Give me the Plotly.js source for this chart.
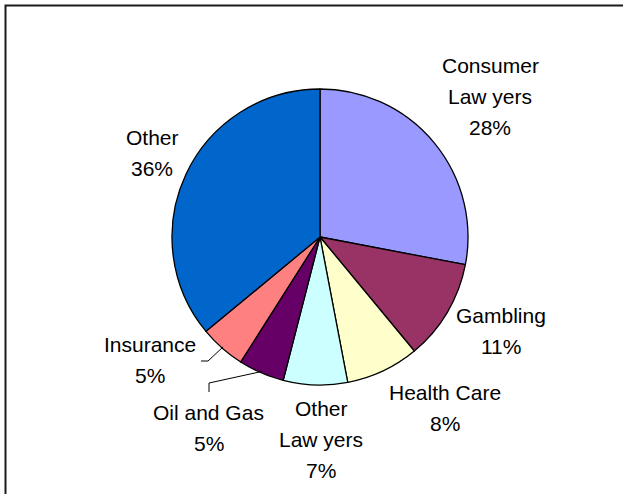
<!DOCTYPE html>
<html>
<head>
<meta charset="utf-8">
<script src="https://cdn.plot.ly/plotly-3.0.1.min.js"></script>
<style>html,body{margin:0;padding:0;background:#fff;}#chart{width:623px;height:494px;}</style>
</head>
<body>
<div id="chart"></div>
<script>
// ---- data ----
const categories = ["Consumer Lawyers", "Gambling", "Health Care", "Other Lawyers", "Oil and Gas", "Insurance", "Other"];
const shares = [28, 11, 8, 7, 5, 5, 36];
const labelLines = [["Consumer", "Law yers"], ["Gambling"], ["Health Care"], ["Other", "Law yers"], ["Oil and Gas"], ["Insurance"], ["Other"]];
const colors = ["#9999FF", "#993366", "#FFFFCC", "#CCFFFF", "#660066", "#FF8080", "#0066CC"];

// ---- layout settings (pixels) ----
const W = 623, H = 494;
const cx = 320, cy = 237, R = 148;
const lineGap = 31;
const labelPos = [[490, 65.5], [501, 315], [445, 392], [321, 408], [208.5, 412], [150, 344], [152, 137.5]];
const leaderElbows = {4: [[209, 383], [209, 392]], 5: [[208, 361], [201, 361]]};
const fontFam = "Liberation Sans, Arial, sans-serif";

const px = x => x / W;
const py = y => 1 - y / H;

const total = shares.reduce((a, b) => a + b, 0);
const annotations = [];
const shapes = [];
let acc = 0;
shares.forEach((v, i) => {
  const mid = (acc + v / 2) / total * 2 * Math.PI;
  acc += v;
  const lines = labelLines[i].concat([Math.round(v / total * 100) + "%"]);
  const [lx, ly] = labelPos[i];
  lines.forEach((t, k) => {
    annotations.push({
      text: t, x: px(lx), y: py(ly + k * lineGap), xref: "paper", yref: "paper",
      xanchor: "center", yanchor: "middle", showarrow: false,
      font: {family: fontFam, size: 21, color: "#000"}
    });
  });
  if (leaderElbows[i]) {
    const sx = cx + R * 0.99 * Math.sin(mid), sy = cy - R * 0.99 * Math.cos(mid);
    const pts = [[sx, sy]].concat(leaderElbows[i]);
    const path = pts.map((p, k) => (k ? "L" : "M") + px(p[0]) + "," + py(p[1])).join(" ");
    shapes.push({type: "path", xref: "paper", yref: "paper", path: path, line: {color: "#000", width: 1}});
  }
});

// frame (top and left)
shapes.push({type: "path", xref: "paper", yref: "paper",
  path: "M" + px(5.5) + "," + py(494) + " L" + px(5.5) + "," + py(5.5) + " L" + px(623) + "," + py(5.5),
  line: {color: "#1a1a1a", width: 2}});

const trace = {
  type: "pie",
  labels: categories,
  values: shares,
  sort: false,
  direction: "clockwise",
  rotation: 0,
  textinfo: "none",
  hoverinfo: "label+percent",
  marker: {colors: colors, line: {color: "#000", width: 1.3}},
  domain: {x: [px(cx - R), px(cx + R)], y: [py(cy + R), py(cy - R)]},
  automargin: false
};

Plotly.newPlot("chart", [trace], {
  width: W, height: H,
  margin: {l: 0, r: 0, t: 0, b: 0},
  paper_bgcolor: "#fff",
  showlegend: false,
  annotations: annotations,
  shapes: shapes
}, {displayModeBar: false, staticPlot: true});
</script>
</body>
</html>
